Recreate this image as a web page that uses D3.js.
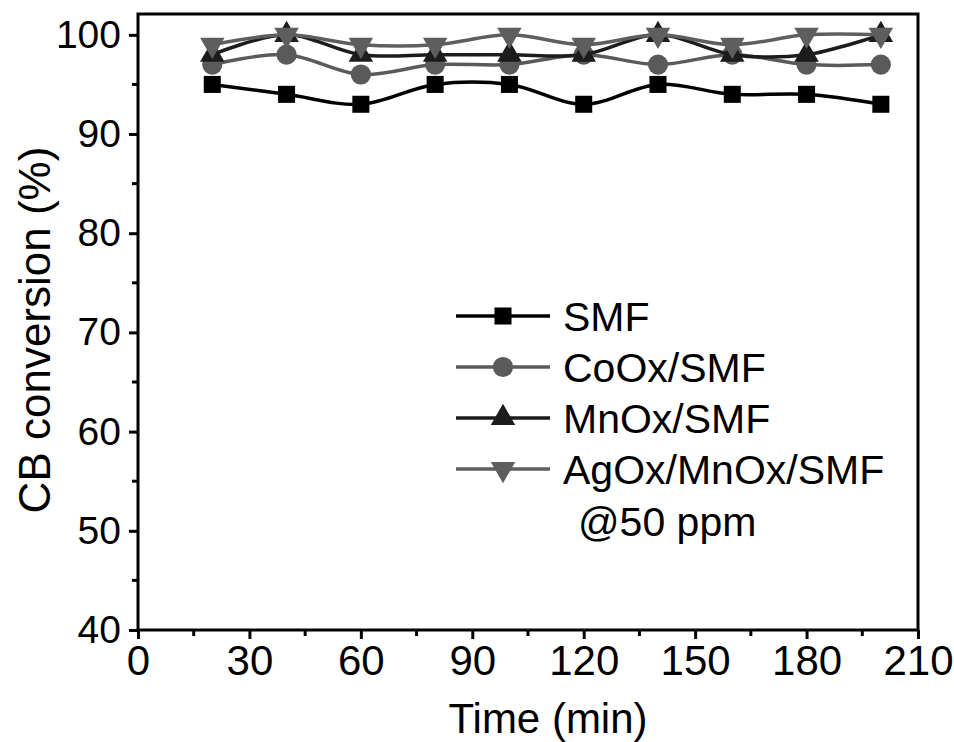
<!DOCTYPE html>
<html>
<head>
<meta charset="utf-8">
<script src="https://cdn.jsdelivr.net/npm/d3@7"></script>
<style>
  body { margin: 0; background: #fff; }
  text { font-family: "Liberation Sans", Arial, sans-serif; }
</style>
</head>
<body>
<div class="canvas"></div>
<script>
// time points (min)
const times = [20, 40, 60, 80, 100, 120, 140, 160, 180, 200];

// CB conversion (%) for each catalyst
const smf = [95, 94, 93, 95, 95, 93, 95, 94, 94, 93];
const coox = [97, 98, 96, 97, 97, 98, 97, 98, 97, 97];
const mnox = [98, 100, 98, 98, 98, 98, 100, 98, 98, 100];
const agox = [99, 100, 99, 99, 100, 99, 100, 99, 100, 100];

const seriesNames = ["SMF", "CoOx/SMF", "MnOx/SMF", "AgOx/MnOx/SMF"];

const xTicks = [0, 30, 60, 90, 120, 150, 180, 210];
const yTicks = [40, 50, 60, 70, 80, 90, 100];

const width = 954, height = 742;
const margin = { top: 14, right: 36, bottom: 112, left: 138 };

const svg = d3.select(".canvas")
  .append("svg")
    .attr("width", width)
    .attr("height", height);

const x = d3.scaleLinear().domain([0, 210]).range([margin.left, width - margin.right]);
const y = d3.scaleLinear().domain([40, 102.1]).range([height - margin.bottom, margin.top]);

// series: drawing order bottom to top
const series = [
  { name: seriesNames[0], values: smf, color: "#000", symbol: d3.symbolSquare, size: 290, rot: 0 },
  { name: seriesNames[1], values: coox, color: "#5a5a5a", symbol: d3.symbolCircle, size: 320, rot: 0 },
  { name: seriesNames[2], values: mnox, color: "#1c1c1c", symbol: d3.symbolTriangle, size: 260, rot: 0 },
  { name: seriesNames[3], values: agox, color: "#5e5e5e", symbol: d3.symbolTriangle, size: 260, rot: 180 }
];

const line = d3.line()
  .x(d => x(d[0]))
  .y(d => y(d[1]))
  .curve(d3.curveCatmullRom.alpha(0.5));

const graph = svg.append("g");

series.forEach(s => {
  const pts = times.map((t, i) => [t, s.values[i]]);
  graph.append("path")
    .datum(pts)
    .attr("fill", "none")
    .attr("stroke", s.color)
    .attr("stroke-width", 3.5)
    .attr("d", line);
  graph.selectAll(null)
    .data(pts)
    .enter()
    .append("path")
      .attr("d", d3.symbol().type(s.symbol).size(s.size))
      .attr("transform", d => `translate(${x(d[0])},${y(d[1])}) rotate(${s.rot})`)
      .attr("fill", s.color);
});

// frame
svg.append("rect")
  .attr("x", x(0))
  .attr("y", y(102.1))
  .attr("width", x(210) - x(0))
  .attr("height", y(40) - y(102.1))
  .attr("fill", "none")
  .attr("stroke", "#000")
  .attr("stroke-width", 3);

// x axis
const xAxis = d3.axisBottom(x)
  .tickValues(xTicks)
  .tickSize(9)
  .tickPadding(6)
  .tickFormat(d3.format("d"));
const gx = svg.append("g")
  .attr("transform", `translate(0,${y(40)})`)
  .call(xAxis);
gx.select(".domain").remove();
gx.selectAll(".tick line").attr("stroke-width", 3);
gx.selectAll(".tick text")
  .style("font-size", "42px")
  .attr("fill", "#000");
gx.selectAll(".minor")
  .data(d3.range(15, 210, 30))
  .enter()
  .append("line")
    .attr("x1", d => x(d)).attr("x2", d => x(d))
    .attr("y1", 0).attr("y2", 6)
    .attr("stroke", "#000").attr("stroke-width", 3);

// y axis
const yAxis = d3.axisLeft(y)
  .tickValues(yTicks)
  .tickSize(9)
  .tickPadding(8);
const gy = svg.append("g")
  .attr("transform", `translate(${x(0)},0)`)
  .call(yAxis);
gy.select(".domain").remove();
gy.selectAll(".tick line").attr("stroke-width", 3);
gy.selectAll(".tick text")
  .style("font-size", "39px")
  .attr("fill", "#000");
gy.selectAll(".minor")
  .data(d3.range(45, 100, 10))
  .enter()
  .append("line")
    .attr("y1", d => y(d)).attr("y2", d => y(d))
    .attr("x1", 0).attr("x2", -6)
    .attr("stroke", "#000").attr("stroke-width", 3);

// axis titles
svg.append("text")
  .attr("x", 548)
  .attr("y", 733)
  .attr("text-anchor", "middle")
  .style("font-size", "42px")
  .text("Time (min)");

svg.append("text")
  .attr("transform", `translate(50,330) rotate(-90)`)
  .attr("text-anchor", "middle")
  .style("font-size", "44px")
  .text("CB conversion (%)");

// legend
const legend = svg.append("g").attr("transform", "translate(456,316)");
series.forEach((s, i) => {
  const row = legend.append("g").attr("transform", `translate(0,${i * 51})`);
  row.append("line")
    .attr("x1", 0).attr("x2", 94)
    .attr("stroke", s.color).attr("stroke-width", 3.5);
  row.append("path")
    .attr("d", d3.symbol().type(s.symbol).size(s.size))
    .attr("transform", `translate(47,0) rotate(${s.rot})`)
    .attr("fill", s.color);
  row.append("text")
    .attr("x", 107)
    .attr("dy", "0.36em")
    .style("font-size", "41px")
    .text(s.name);
});
legend.append("text")
  .attr("x", 122)
  .attr("y", 205)
  .attr("dy", "0.36em")
  .style("font-size", "41px")
  .text("@50 ppm");
</script>
</body>
</html>
